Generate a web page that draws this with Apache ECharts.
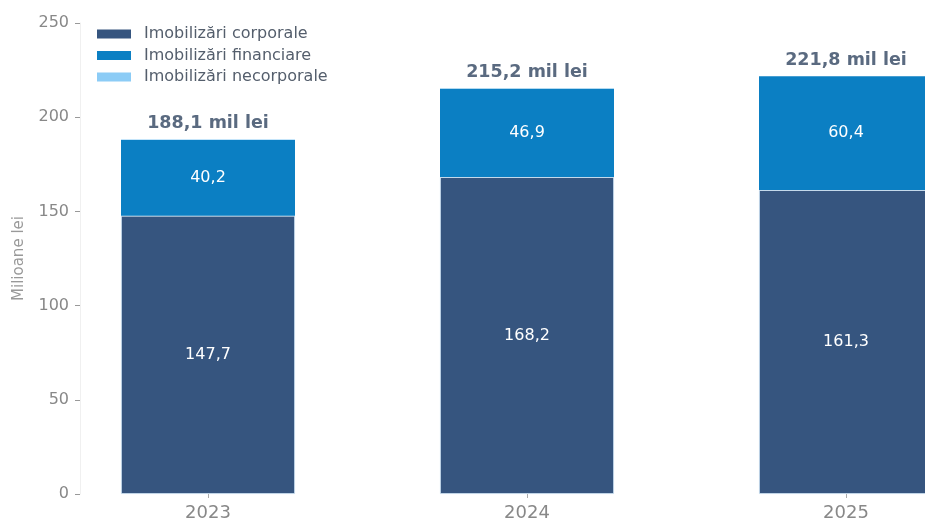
<!DOCTYPE html>
<html><head><meta charset="utf-8">
<script src="https://cdn.jsdelivr.net/npm/echarts@6/dist/echarts.min.js"></script>
<style>html,body{margin:0;padding:0;background:#fff}#c{width:925px;height:522px}</style>
</head><body><div id="c"></div>
<script>
const categories = ['2023', '2024', '2025'];
const corporale = [147.7, 168.2, 161.3];
const financiare = [40.2, 46.9, 60.4];
const necorporale = [0.2, 0.1, 0.1];
const totals = [188.1, 215.2, 221.8];
const yTicks = [0, 50, 100, 150, 200, 250];

const fmt = v => String(v).replace('.', ',');
const chart = echarts.init(document.getElementById('c'));
const segLabel = {
  show: true, position: 'inside', color: '#ffffff', fontSize: 16,
  fontFamily: 'DejaVu Sans', formatter: p => fmt(p.value)
};
chart.setOption({
  animation: false,
  textStyle: { fontFamily: 'DejaVu Sans' },
  legend: {
    orient: 'vertical', left: 92, top: 20, itemWidth: 34, itemHeight: 9, itemGap: 3.5,
    icon: 'rect', itemStyle: { borderWidth: 0 },
    textStyle: { color: '#545e6c', fontSize: 16, lineHeight: 18, padding: [0, 0, 0, 8], fontFamily: 'DejaVu Sans' },
    data: ['Imobilizări corporale', 'Imobilizări financiare', 'Imobilizări necorporale']
  },
  grid: { left: 48.5, top: 23, width: 957, bottom: 28, outerBoundsMode: 'none', containLabel: false },
  xAxis: {
    type: 'category', data: categories,
    axisLine: { show: false },
    axisTick: { show: true, alignWithLabel: true, length: 4, lineStyle: { color: '#aaa' } },
    axisLabel: { color: '#888', fontSize: 18, margin: 10 }
  },
  yAxis: {
    type: 'value', min: 0, max: 250, interval: 50, offset: -31.5,
    name: 'Milioane lei', nameLocation: 'middle', nameGap: 53, nameRotate: 90,
    nameTextStyle: { color: '#999', fontSize: 15 },
    axisLine: { show: true, lineStyle: { color: '#f0f0f0' } },
    axisTick: { show: true, length: 5, lineStyle: { color: '#999' } },
    axisLabel: { color: '#888', fontSize: 16, margin: 11, formatter: v => yTicks.includes(v) ? String(v) : '' },
    splitLine: { show: false }
  },
  series: [
    { name: 'Imobilizări corporale', type: 'bar', stack: 's', barWidth: 174, data: corporale,
      itemStyle: { color: '#36557f', borderColor: '#cfe6f6', borderWidth: 0.8 }, label: segLabel },
    { name: 'Imobilizări financiare', type: 'bar', stack: 's', data: financiare,
      itemStyle: { color: '#0b7fc3' }, label: segLabel },
    { name: 'Imobilizări necorporale', type: 'bar', stack: 's', data: necorporale,
      itemStyle: { color: '#8cccf6' },
      label: { show: true, position: 'top', distance: 7, color: '#5a6a80', fontSize: 17.5, fontWeight: 'bold',
        fontFamily: 'DejaVu Sans', formatter: p => fmt(totals[p.dataIndex]) + ' mil lei' } }
  ]
});
</script></body></html>
